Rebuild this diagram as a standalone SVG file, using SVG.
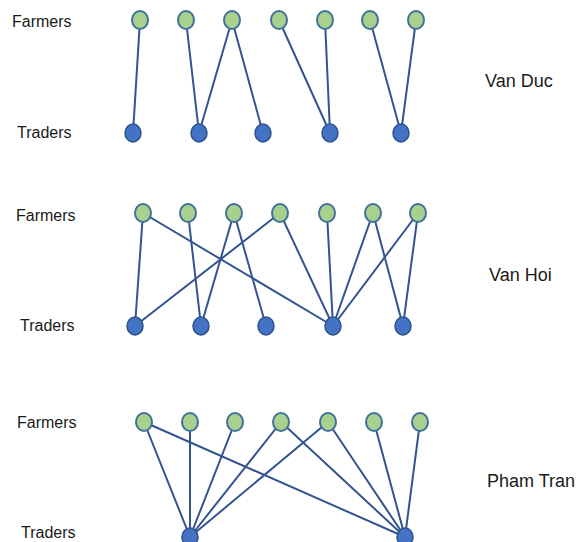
<svg xmlns="http://www.w3.org/2000/svg" width="577" height="542" viewBox="0 0 577 542">
<style>
.lbl{font-family:"Liberation Sans",Arial,sans-serif;font-size:16px;fill:#1a1a1a}
.vil{font-family:"Liberation Sans",Arial,sans-serif;font-size:18px;fill:#1a1a1a}
.e line{stroke:#34548f;stroke-width:2;stroke-linecap:round}
.f{fill:#a9d18e;stroke:#41719c;stroke-width:2}
.t{fill:#4472c4;stroke:#2f528f;stroke-width:1.5}
</style>
<rect width="577" height="542" fill="#ffffff"/>

<!-- Van Duc -->
<g id="vanduc-labels">
<text class="lbl" x="12" y="27">Farmers</text>
<text class="lbl" x="17" y="138">Traders</text>
<text class="vil" x="485" y="87">Van Duc</text>
</g>
<g id="vanduc-connectors" class="e">
<line x1="140" y1="20" x2="133" y2="133"/>
<line x1="186" y1="20" x2="199" y2="133"/>
<line x1="232" y1="20" x2="199" y2="133"/>
<line x1="232" y1="20" x2="263" y2="133"/>
<line x1="279" y1="20" x2="330" y2="133"/>
<line x1="325" y1="20" x2="330" y2="133"/>
<line x1="370" y1="20" x2="401" y2="133"/>
<line x1="416" y1="20" x2="401" y2="133"/>
</g>
<g id="vd-f1"><ellipse class="f" cx="140" cy="20" rx="8" ry="9"/></g>
<g id="vd-f2"><ellipse class="f" cx="186" cy="20" rx="8" ry="9"/></g>
<g id="vd-f3"><ellipse class="f" cx="232" cy="20" rx="8" ry="9"/></g>
<g id="vd-f4"><ellipse class="f" cx="279" cy="20" rx="8" ry="9"/></g>
<g id="vd-f5"><ellipse class="f" cx="325" cy="20" rx="8" ry="9"/></g>
<g id="vd-f6"><ellipse class="f" cx="370" cy="20" rx="8" ry="9"/></g>
<g id="vd-f7"><ellipse class="f" cx="416" cy="20" rx="8" ry="9"/></g>
<g id="vd-t1"><ellipse class="t" cx="133" cy="133" rx="8" ry="9"/></g>
<g id="vd-t2"><ellipse class="t" cx="199" cy="133" rx="8" ry="9"/></g>
<g id="vd-t3"><ellipse class="t" cx="263" cy="133" rx="8" ry="9"/></g>
<g id="vd-t4"><ellipse class="t" cx="330" cy="133" rx="8" ry="9"/></g>
<g id="vd-t5"><ellipse class="t" cx="401" cy="133" rx="8" ry="9"/></g>

<!-- Van Hoi -->
<g id="vanhoi-labels">
<text class="lbl" x="16" y="221">Farmers</text>
<text class="lbl" x="20" y="331">Traders</text>
<text class="vil" x="489" y="281">Van Hoi</text>
</g>
<g id="vanhoi-connectors" class="e">
<line x1="143" y1="213" x2="135" y2="326"/>
<line x1="143" y1="213" x2="333" y2="326"/>
<line x1="188" y1="213" x2="201" y2="326"/>
<line x1="234" y1="213" x2="201" y2="326"/>
<line x1="234" y1="213" x2="266" y2="326"/>
<line x1="280" y1="213" x2="135" y2="326"/>
<line x1="280" y1="213" x2="333" y2="326"/>
<line x1="327" y1="213" x2="333" y2="326"/>
<line x1="373" y1="213" x2="333" y2="326"/>
<line x1="373" y1="213" x2="403" y2="326"/>
<line x1="418" y1="213" x2="333" y2="326"/>
<line x1="418" y1="213" x2="403" y2="326"/>
</g>
<g id="vh-f1"><ellipse class="f" cx="143" cy="213" rx="8" ry="9"/></g>
<g id="vh-f2"><ellipse class="f" cx="188" cy="213" rx="8" ry="9"/></g>
<g id="vh-f3"><ellipse class="f" cx="234" cy="213" rx="8" ry="9"/></g>
<g id="vh-f4"><ellipse class="f" cx="280" cy="213" rx="8" ry="9"/></g>
<g id="vh-f5"><ellipse class="f" cx="327" cy="213" rx="8" ry="9"/></g>
<g id="vh-f6"><ellipse class="f" cx="373" cy="213" rx="8" ry="9"/></g>
<g id="vh-f7"><ellipse class="f" cx="418" cy="213" rx="8" ry="9"/></g>
<g id="vh-t1"><ellipse class="t" cx="135" cy="326" rx="8" ry="9"/></g>
<g id="vh-t2"><ellipse class="t" cx="201" cy="326" rx="8" ry="9"/></g>
<g id="vh-t3"><ellipse class="t" cx="266" cy="326" rx="8" ry="9"/></g>
<g id="vh-t4"><ellipse class="t" cx="333" cy="326" rx="8" ry="9"/></g>
<g id="vh-t5"><ellipse class="t" cx="403" cy="326" rx="8" ry="9"/></g>

<!-- Pham Tran -->
<g id="phamtran-labels">
<text class="lbl" x="17" y="428">Farmers</text>
<text class="lbl" x="21" y="538">Traders</text>
<text class="vil" x="487" y="487">Pham Tran</text>
</g>
<g id="phamtran-connectors" class="e">
<line x1="144" y1="422" x2="190" y2="537"/>
<line x1="190" y1="422" x2="190" y2="537"/>
<line x1="235" y1="422" x2="190" y2="537"/>
<line x1="281" y1="422" x2="190" y2="537"/>
<line x1="328" y1="422" x2="190" y2="537"/>
<line x1="144" y1="422" x2="405" y2="537"/>
<line x1="281" y1="422" x2="405" y2="537"/>
<line x1="328" y1="422" x2="405" y2="537"/>
<line x1="374" y1="422" x2="405" y2="537"/>
<line x1="420" y1="422" x2="405" y2="537"/>
</g>
<g id="pt-f1"><ellipse class="f" cx="144" cy="422" rx="8" ry="9"/></g>
<g id="pt-f2"><ellipse class="f" cx="190" cy="422" rx="8" ry="9"/></g>
<g id="pt-f3"><ellipse class="f" cx="235" cy="422" rx="8" ry="9"/></g>
<g id="pt-f4"><ellipse class="f" cx="281" cy="422" rx="8" ry="9"/></g>
<g id="pt-f5"><ellipse class="f" cx="328" cy="422" rx="8" ry="9"/></g>
<g id="pt-f6"><ellipse class="f" cx="374" cy="422" rx="8" ry="9"/></g>
<g id="pt-f7"><ellipse class="f" cx="420" cy="422" rx="8" ry="9"/></g>
<g id="pt-t1"><ellipse class="t" cx="190" cy="537" rx="8" ry="9"/></g>
<g id="pt-t2"><ellipse class="t" cx="405" cy="537" rx="8" ry="9"/></g>
</svg>
